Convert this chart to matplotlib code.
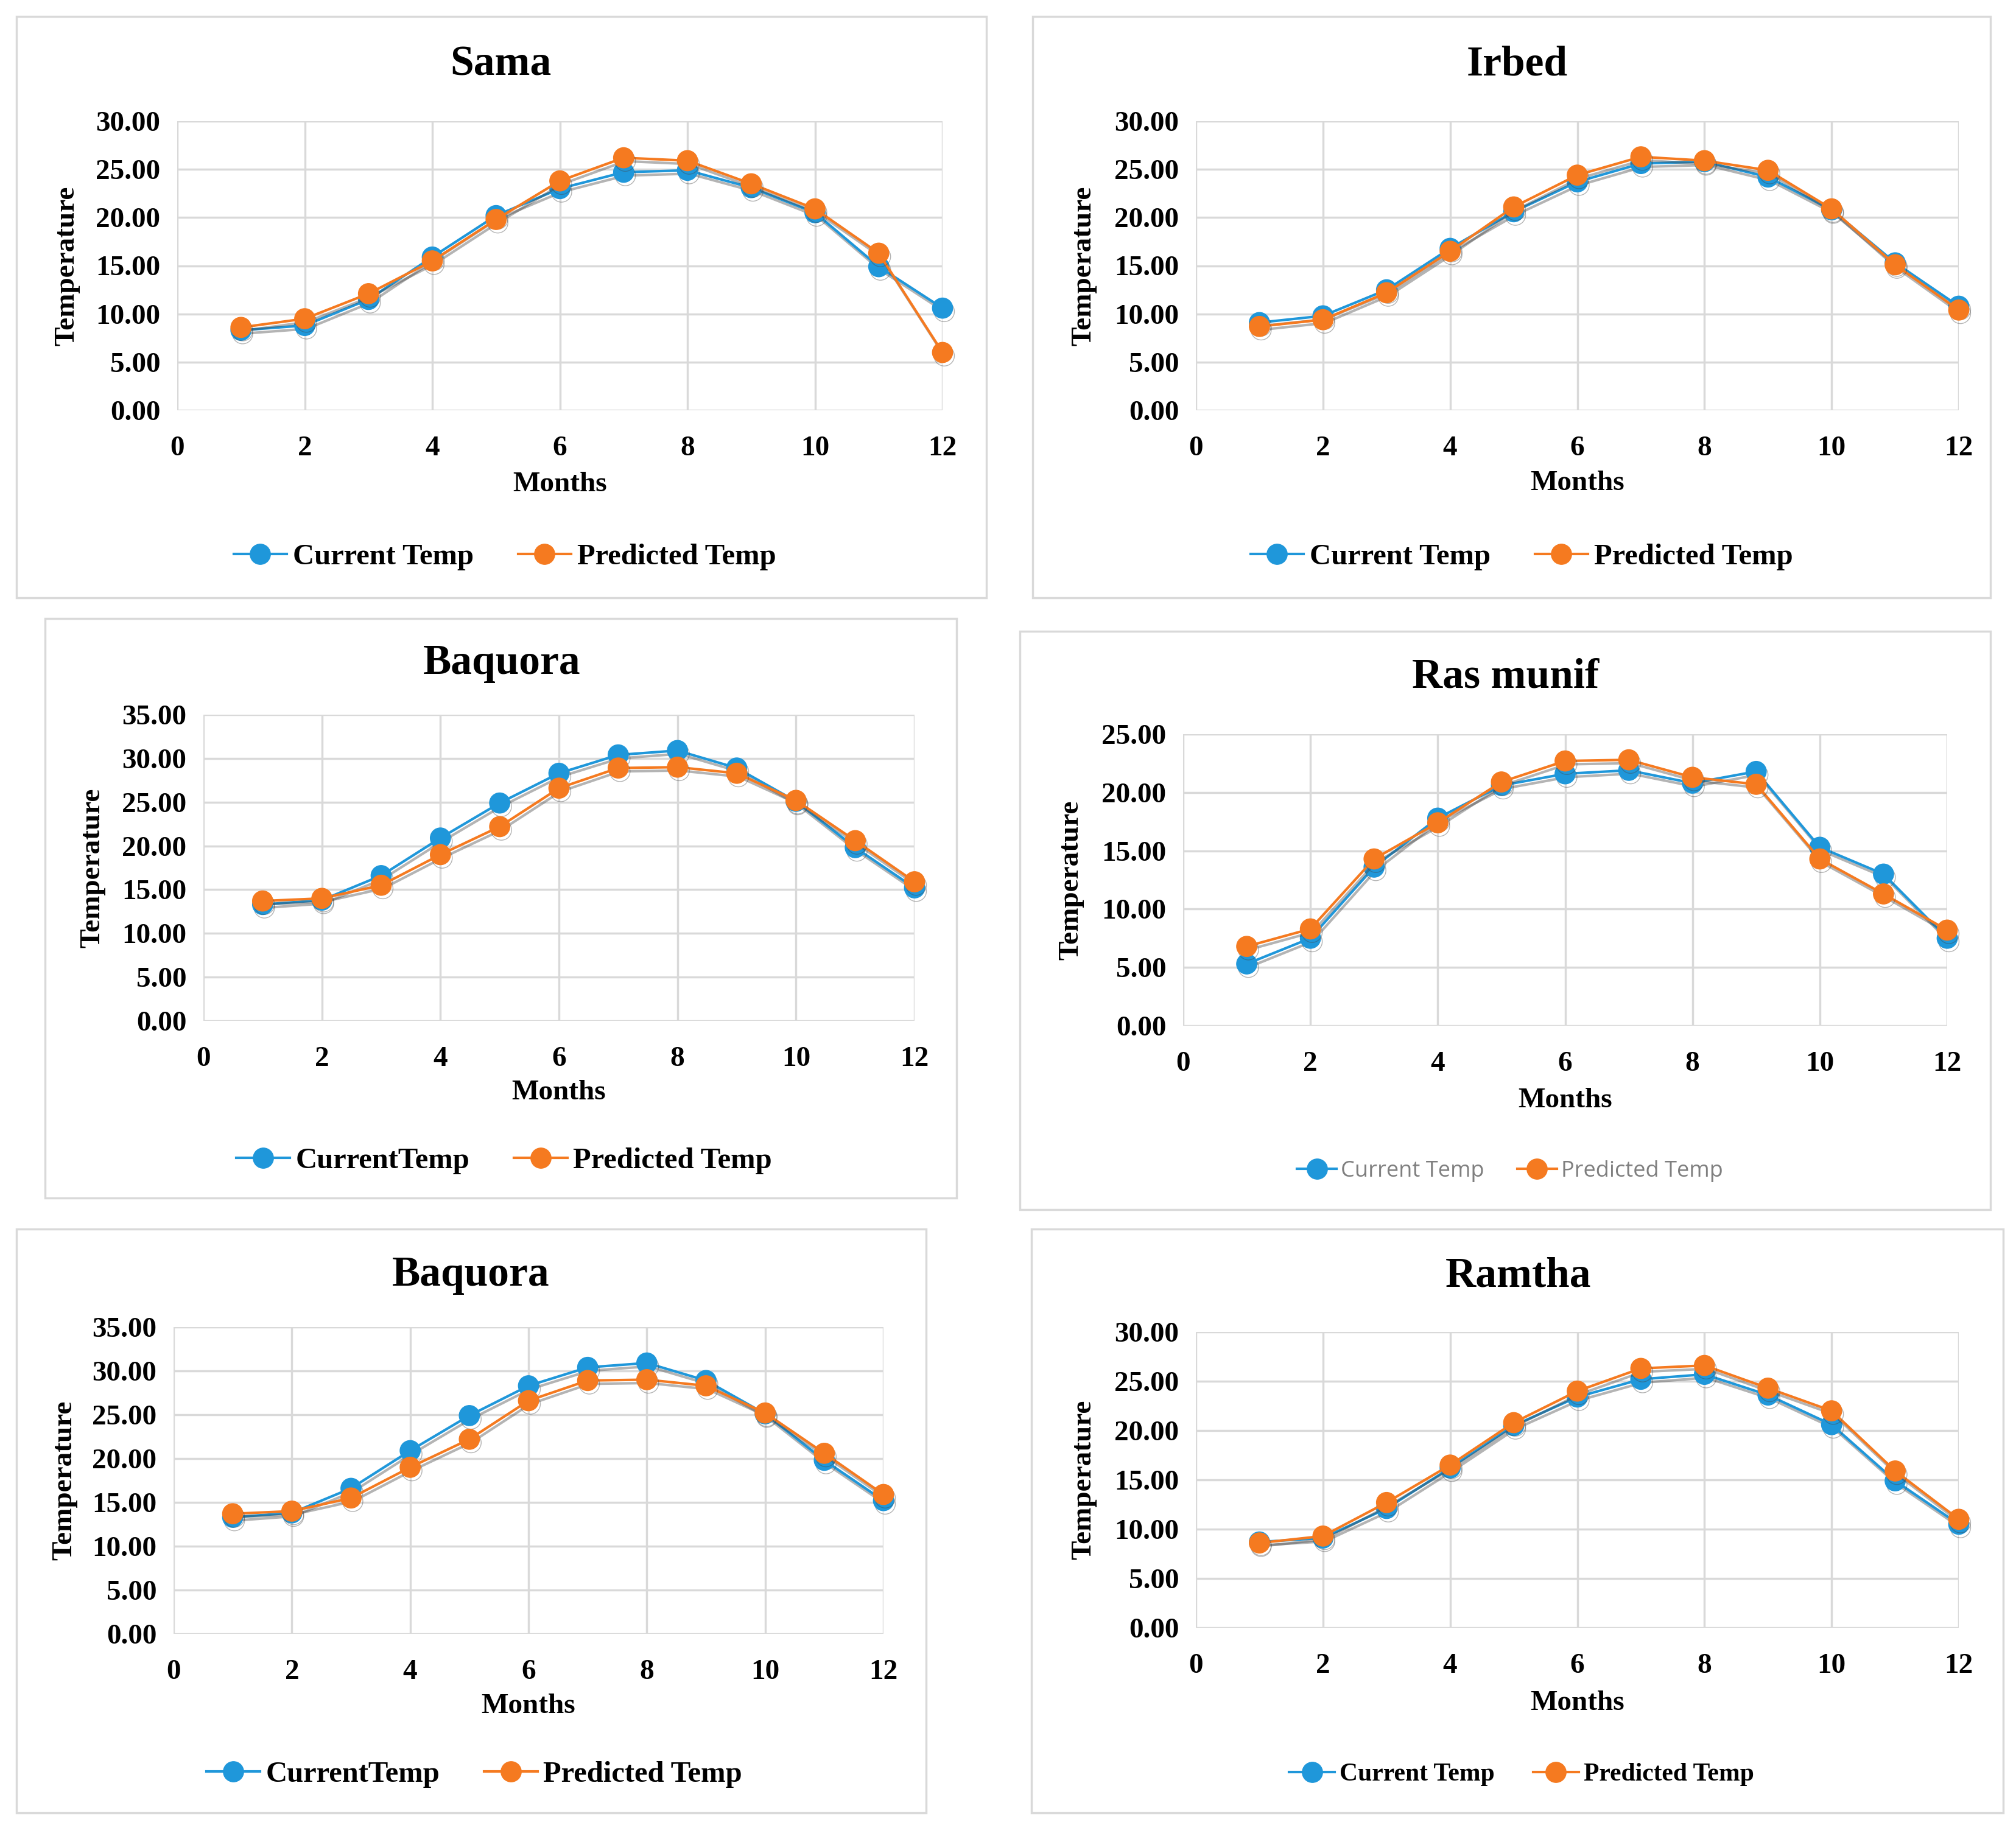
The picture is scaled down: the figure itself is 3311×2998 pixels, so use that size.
import matplotlib
matplotlib.use("Agg")
import matplotlib.pyplot as plt
import matplotlib.patheffects as pe
from matplotlib.patches import Rectangle
from matplotlib.lines import Line2D

plt.rcParams['font.family'] = ['Liberation Serif', 'DejaVu Serif']

# months 1..12
months = [1, 2, 3, 4, 5, 6, 7, 8, 9, 10, 11, 12]

sama_current = [8.3, 8.8, 11.5, 15.9, 20.2, 23.0, 24.7, 24.9, 23.1, 20.5, 14.9, 10.6]
sama_predicted = [8.6, 9.5, 12.1, 15.5, 19.8, 23.8, 26.2, 25.9, 23.5, 20.9, 16.3, 6.0]

irbed_current = [9.1, 9.8, 12.5, 16.8, 20.6, 23.7, 25.6, 25.8, 24.2, 20.8, 15.3, 10.8]
irbed_predicted = [8.7, 9.4, 12.2, 16.5, 21.1, 24.4, 26.3, 25.9, 24.9, 20.9, 15.1, 10.4]

baquora_current = [13.3, 13.8, 16.6, 20.9, 24.9, 28.3, 30.4, 30.9, 28.9, 25.1, 19.8, 15.2]
baquora_predicted = [13.7, 14.0, 15.5, 19.0, 22.2, 26.6, 28.9, 29.0, 28.3, 25.2, 20.6, 15.9]

rasmunif_current = [5.3, 7.5, 13.6, 17.8, 20.6, 21.6, 21.9, 20.8, 21.8, 15.3, 13.0, 7.5]
rasmunif_predicted = [6.8, 8.3, 14.3, 17.4, 20.9, 22.7, 22.8, 21.3, 20.7, 14.3, 11.3, 8.2]

ramtha_current = [8.7, 9.1, 12.1, 16.2, 20.5, 23.4, 25.2, 25.7, 23.6, 20.6, 14.9, 10.5]
ramtha_predicted = [8.6, 9.3, 12.7, 16.5, 20.8, 24.0, 26.3, 26.6, 24.3, 22.0, 15.9, 11.0]

titles = ["Sama", "Irbed", "Baquora", "Ras munif", "Baquora", "Ramtha"]
current_labels = ["Current Temp", "Current Temp", "CurrentTemp", "Current Temp", "CurrentTemp", "Current Temp"]
predicted_label = "Predicted Temp"
y_max = [30, 30, 35, 25, 35, 30]
series = [
    (sama_current, sama_predicted),
    (irbed_current, irbed_predicted),
    (baquora_current, baquora_predicted),
    (rasmunif_current, rasmunif_predicted),
    (baquora_current, baquora_predicted),
    (ramtha_current, ramtha_predicted),
]

W, H = 3311, 2998
BLUE = '#1F97DA'
ORANGE = '#F57A20'
GRID = '#D9D9D9'

# layout in pixels: panel box, axes box, title, xlabel y, ylabel x, legend center
panels = [(27, 27, 1620, 982), (1696, 27, 3269, 982), (74, 1016, 1571, 1968),
          (1675, 1037, 3269, 1987), (27, 2019, 1521, 2978), (1694, 2019, 3290, 2978)]
axboxes = [(291, 199, 1548, 674), (1964, 199, 3217, 674), (334, 1174, 1502, 1677),
           (1943, 1206, 3198, 1685), (285, 2180, 1451, 2684), (1964, 2188, 3217, 2674)]
title_pos = [(822, 106), (2492, 106), (824, 1090), (2473, 1113), (773, 2095), (2494, 2097)]
xlabel_y = [796, 794, 1795, 1808, 2803, 2798]
ylabel_x = [110, 1780, 152, 1759, 106, 1780]
legend_pos = [(829, 915), (2499, 915), (828, 1907), (2480, 1924), (779, 2915), (2499, 2915)]

fig = plt.figure(figsize=(W / 100, H / 100), dpi=100)
fig.patch.set_facecolor('white')

shadow = [pe.SimpleLineShadow(offset=(2, -4), shadow_color='#444444', alpha=0.4), pe.Normal()]

for i in range(6):
    px0, py0, px1, py1 = panels[i]
    fig.patches.append(Rectangle((px0 / W, 1 - py1 / H), (px1 - px0) / W, (py1 - py0) / H,
                                 transform=fig.transFigure, fill=False, edgecolor=GRID, lw=2.5))
    x0, y0, x1, y1 = axboxes[i]
    ax = fig.add_axes([x0 / W, 1 - y1 / H, (x1 - x0) / W, (y1 - y0) / H])
    cur, pred = series[i]
    ax.plot(months, cur, color=BLUE, lw=3, marker='o', ms=24, mec=BLUE, mfc=BLUE,
            path_effects=shadow, zorder=3, clip_on=False)
    ax.plot(months, pred, color=ORANGE, lw=3, marker='o', ms=24, mec=ORANGE, mfc=ORANGE,
            path_effects=shadow, zorder=4, clip_on=False)
    ax.set_xlim(0, 12)
    ax.set_ylim(0, y_max[i])
    ax.set_xticks(range(0, 13, 2))
    ax.set_yticks(range(0, y_max[i] + 1, 5))
    ax.set_yticklabels(["%.2f" % v for v in range(0, y_max[i] + 1, 5)])
    ax.grid(True, color=GRID, lw=2.5)
    ax.set_axisbelow(True)
    for s in ax.spines.values():
        s.set_visible(False)
    ax.tick_params(length=0, labelsize=34)
    ax.tick_params(axis='x', pad=30)
    ax.tick_params(axis='y', pad=20)
    for lab in ax.get_xticklabels() + ax.get_yticklabels():
        lab.set_fontweight('bold')

    tx, ty = title_pos[i]
    fig.text(tx / W, 1 - ty / H, titles[i], ha='center', va='center', fontsize=50, fontweight='bold')
    fig.text(((x0 + x1) / 2) / W, 1 - xlabel_y[i] / H, "Months", ha='center', va='center',
             fontsize=34, fontweight='bold')
    fig.text(ylabel_x[i] / W, 1 - ((y0 + y1) / 2) / H, "Temperature", ha='center', va='center',
             rotation=90, fontsize=34, fontweight='bold')

    handles = [Line2D([], [], color=BLUE, lw=3, marker='o', ms=24),
               Line2D([], [], color=ORANGE, lw=3, marker='o', ms=24)]
    lx, ly = legend_pos[i]
    if i == 3:
        prop = {'family': 'Open Sans', 'size': 26}
        tcol = '#7F7F7F'
    elif i == 5:
        prop = {'size': 30, 'weight': 'bold'}
        tcol = 'black'
    else:
        prop = {'size': 35, 'weight': 'bold'}
        tcol = 'black'
    leg = fig.legend(handles, [current_labels[i], predicted_label], loc='center',
                     bbox_to_anchor=(lx / W, 1 - ly / H), ncol=2, frameon=False, prop=prop,
                     handlelength=1.8, handletextpad=0.2, columnspacing=1.5)
    for t in leg.get_texts():
        t.set_color(tcol)

fig.savefig("out.png", dpi=100)
